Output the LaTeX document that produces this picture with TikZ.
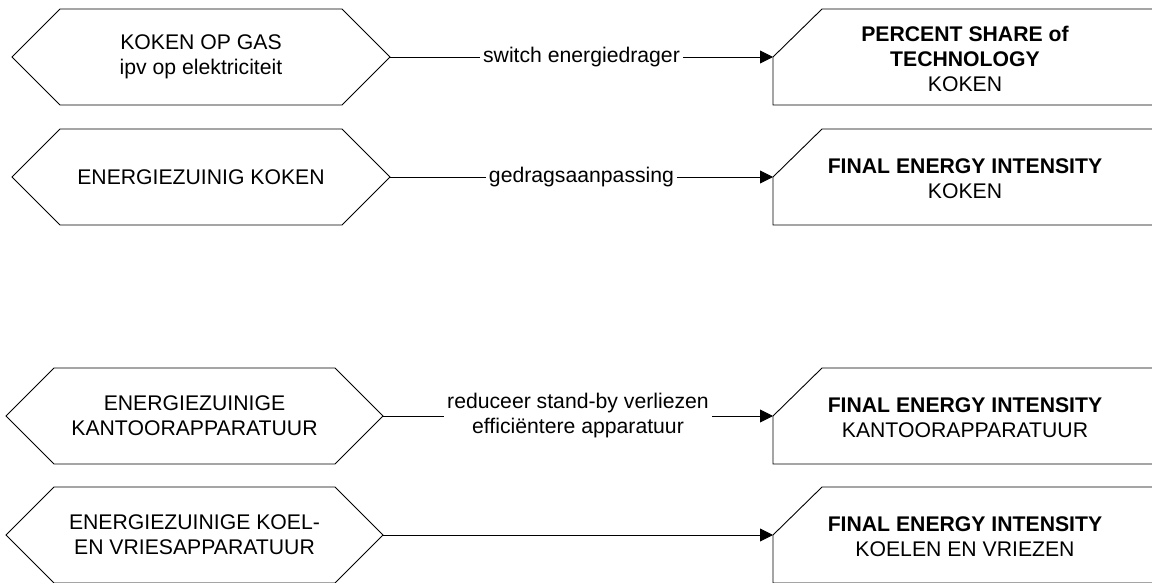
\documentclass[tikz,border=0pt]{standalone}
\usepackage{fontspec}
\setmainfont[Ligatures=NoCommon]{Liberation Sans}
\usetikzlibrary{arrows.meta}

% Double-pointed measure shape: name, left x, right x, middle y
\newcommand\measureshape[4]{%
  \draw[outline] (#2,#4) -- ({#2+48},{#4-48}) -- ({#3-48},{#4-48}) -- (#3,#4)
    -- ({#3-48},{#4+48}) -- ({#2+48},{#4+48}) -- cycle;
  \coordinate (#1) at (#3,#4);}

% Goal box with a chamfered upper-left corner: name, middle y
\newcommand\goalshape[2]{%
  \draw[outline] (1170,{#2-48}) -- (822,{#2-48}) -- (773,#2) -- (773,{#2+48}) -- (1170,{#2+48});
  \coordinate (#1) at (773,#2);}

\begin{document}
\begin{tikzpicture}[x=1pt,y=-1pt,
  outline/.style={draw=black, line width=0.9pt, line join=miter},
  txt/.style={align=center, font=\fontsize{21.2}{25}\selectfont, inner sep=0pt},
  link/.style={draw=black, line width=0.9pt, -{Triangle[length=13pt,width=13pt]}},
  linklabel/.style={txt, fill=white, inner xsep=3pt, inner ysep=2pt}]
\useasboundingbox (0,0) rectangle (1152,583);
\clip (0,0) rectangle (1152,583);

% measures
\measureshape{m1}{12}{390}{57}
\measureshape{m2}{12}{390}{177}
\measureshape{m3}{6}{383}{416}
\measureshape{m4}{6}{383}{535}
\node[txt] (m1t) at (201,57) {KOKEN OP GAS\\ipv op elektriciteit};
\node[txt] (m2t) at (201,177) {ENERGIEZUINIG KOKEN};
\node[txt] (m3t) at (194.5,416) {ENERGIEZUINIGE\\KANTOORAPPARATUUR};
\node[txt] (m4t) at (194.5,535) {ENERGIEZUINIGE KOEL-\\EN VRIESAPPARATUUR};

% goals
\goalshape{g1}{57}
\goalshape{g2}{177}
\goalshape{g3}{416}
\goalshape{g4}{535}
\node[txt] (g1t) at (965,59) {\textbf{PERCENT SHARE of}\\\textbf{TECHNOLOGY}\\KOKEN};
\node[txt] (g2t) at (965,179) {\textbf{FINAL ENERGY INTENSITY}\\KOKEN};
\node[txt] (g3t) at (965,418) {\textbf{FINAL ENERGY INTENSITY}\\KANTOORAPPARATUUR};
\node[txt] (g4t) at (965,537) {\textbf{FINAL ENERGY INTENSITY}\\KOELEN EN VRIEZEN};

% links
\draw[link] (m1) -- node[linklabel] (l1) {switch energiedrager} (g1);
\draw[link] (m2) -- node[linklabel] (l2) {gedragsaanpassing} (g2);
\draw[link] (m3) -- node[linklabel] (l3) {reduceer stand-by verliezen\\efficiëntere apparatuur} (g3);
\draw[link] (m4) -- (g4);
\end{tikzpicture}
\end{document}
